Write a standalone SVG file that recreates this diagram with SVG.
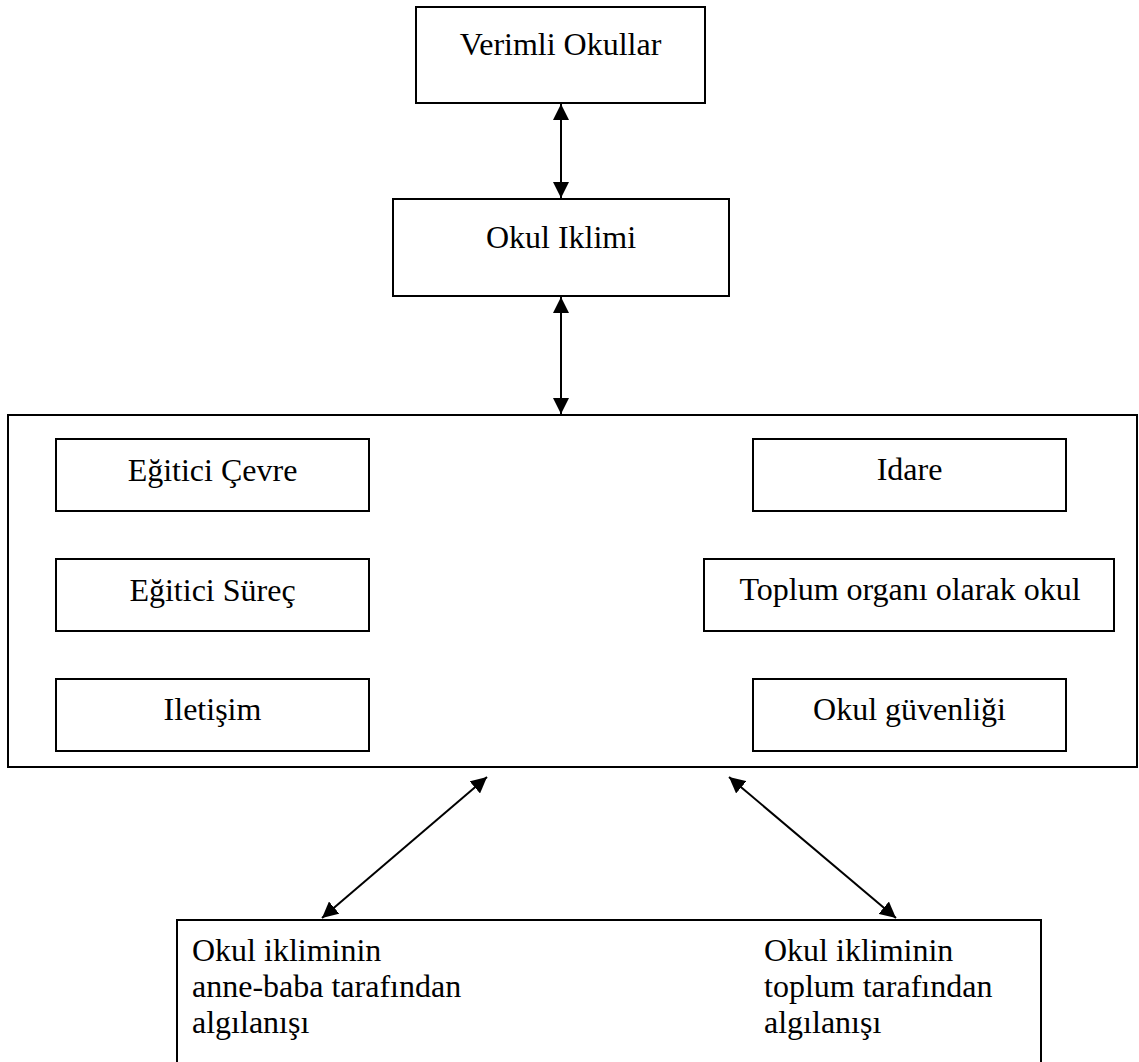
<svg xmlns="http://www.w3.org/2000/svg" width="1139" height="1062" viewBox="0 0 1139 1062">
  <style>
    .box { fill: #fff; stroke: #000; stroke-width: 2; }
    .link { stroke: #000; stroke-width: 2; fill: none; marker-start: url(#head); marker-end: url(#head); }
  </style>
  <defs>
    <marker id="head" markerUnits="userSpaceOnUse" markerWidth="16" markerHeight="16" viewBox="0 0 16 16" refX="16" refY="8" orient="auto-start-reverse">
      <path d="M0,0 L16,8 L0,16 z" fill="#000"/>
    </marker>
  </defs>

  <rect width="1139" height="1062" fill="#fff"/>

  <g font-family="Liberation Serif, serif" font-size="32" fill="#000">
    <g id="verimli-okullar">
      <rect class="box" x="416" y="7" width="289" height="96"/>
      <text x="560.5" y="55" text-anchor="middle">Verimli Okullar</text>
    </g>

    <g id="okul-iklimi">
      <rect class="box" x="393" y="199" width="336" height="97"/>
      <text x="561" y="248" text-anchor="middle">Okul Iklimi</text>
    </g>

    <g id="boyutlar">
      <rect class="box" x="8" y="415" width="1129" height="352"/>
    </g>

    <g id="egitici-cevre">
      <rect class="box" x="56" y="439" width="313" height="72"/>
      <text x="212.5" y="481" text-anchor="middle">Eğitici Çevre</text>
    </g>
    <g id="egitici-surec">
      <rect class="box" x="56" y="559" width="313" height="72"/>
      <text x="212.5" y="601" text-anchor="middle">Eğitici Süreç</text>
    </g>
    <g id="iletisim">
      <rect class="box" x="56" y="679" width="313" height="72"/>
      <text x="212.5" y="720" text-anchor="middle">Iletişim</text>
    </g>
    <g id="idare">
      <rect class="box" x="753" y="439" width="313" height="72"/>
      <text x="909.5" y="480" text-anchor="middle">Idare</text>
    </g>
    <g id="toplum-organi">
      <rect class="box" x="704" y="559" width="410" height="72"/>
      <text x="910" y="600" text-anchor="middle">Toplum organı olarak okul</text>
    </g>
    <g id="okul-guvenligi">
      <rect class="box" x="753" y="679" width="313" height="72"/>
      <text x="909.5" y="720" text-anchor="middle">Okul güvenliği</text>
    </g>

    <g id="algilanis">
      <rect class="box" x="177" y="920" width="864" height="160"/>
      <text x="192" y="961">Okul ikliminin</text>
      <text x="192" y="997">anne-baba tarafından</text>
      <text x="192" y="1033">algılanışı</text>
      <text x="764" y="961">Okul ikliminin</text>
      <text x="764" y="997">toplum tarafından</text>
      <text x="764" y="1033">algılanışı</text>
    </g>
  </g>

  <g id="connectors">
    <line class="link" x1="561" y1="104" x2="561" y2="198"/>
    <line class="link" x1="561" y1="297" x2="561" y2="414"/>
    <line class="link" x1="487" y1="777" x2="322" y2="918"/>
    <line class="link" x1="729" y1="777" x2="896" y2="918"/>
  </g>
</svg>
